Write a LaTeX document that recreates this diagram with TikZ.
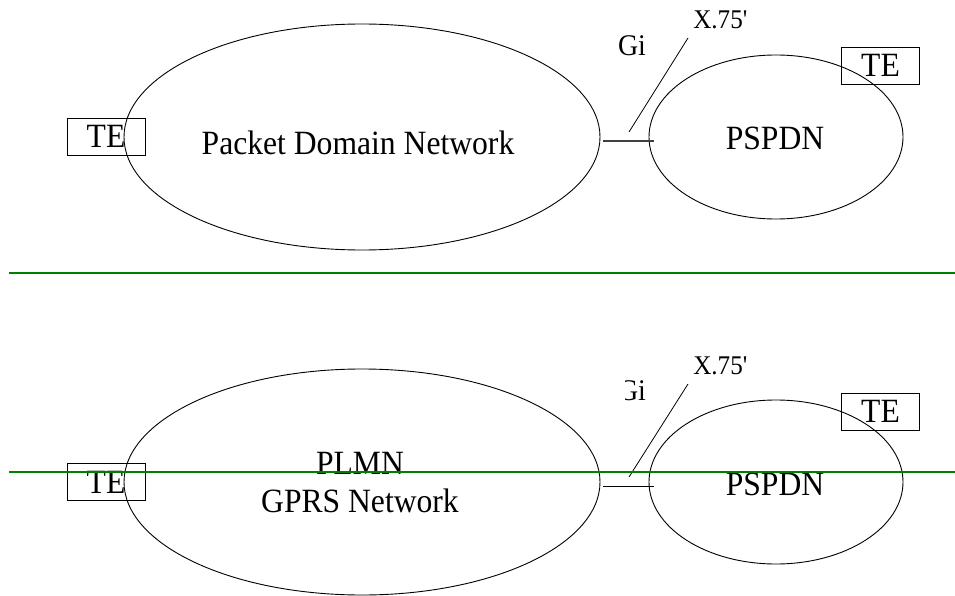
\documentclass[tikz,border=0pt]{standalone}
\usepackage{fontspec}
\setmainfont[FakeStretch=0.93]{Liberation Serif}
\usetikzlibrary{shapes.geometric,calc}
\definecolor{rulegreen}{RGB}{0,128,0}

\tikzset{
  net/.style={draw,ellipse,line width=0.9pt,inner sep=0pt},
  bignet/.style={net,minimum width=476pt,minimum height=226pt},
  smallnet/.style={net,minimum width=254pt,minimum height=164pt},
  tebox/.style={draw,line width=0.9pt,minimum width=78pt,minimum height=37pt,inner sep=0pt,font=\fontsize{34}{38}\selectfont},
  lbl/.style={font=\fontsize{34}{38}\selectfont,inner sep=0pt,align=center},
  ifname/.style={font=\fontsize{30}{34}\selectfont,inner sep=0pt},
  protname/.style={font=\fontsize{27}{31}\selectfont,inner sep=0pt},
  sep/.style={rulegreen,line width=2pt},
}

\begin{document}
\begin{tikzpicture}[x=1pt,y=-1pt]
  \useasboundingbox (0,0) rectangle (955,596);

  % upper half: packet domain
  \node[bignet] (pdn) at (362,137) {};
  \node[smallnet] (pspdn) at (776,137) {};
  \node[lbl] (pdntext) at (358,143) {Packet Domain Network};
  \node[lbl] (pspdntext) at (775,138) {PSPDN};
  \node[tebox] (teleft) at (106,136.5) {TE};
  \node[tebox] (teright) at (880.5,65.5) {TE};
  \node[ifname] (gi) at (632,46) {Gi};
  \node[protname] (xsf) at (720.5,20) {X.75\textquotesingle};
  \draw[line width=1.4pt,black!75] ($(pdn.east)+(3,4)$) -- ($(pspdn.west)+(5,4)$);
  \coordinate (gitip) at (629,132);
  \draw[line width=0.8pt] (688,38) -- (gitip);

  % lower half: PLMN / GPRS
  \node[bignet] (plmn) at (362,482) {};
  \node[smallnet] (pspdnb) at (776,482) {};
  \node[lbl] (plmntext) at (360,483) {PLMN\\GPRS Network};
  \node[lbl] (pspdnbtext) at (775,484) {PSPDN};
  \node[tebox] (teleftb) at (106,482) {TE};
  \node[tebox] (terightb) at (880.5,411.5) {TE};
  \node[ifname] (gib) at (632,391) {Gi};
  \fill[white] (600,372) rectangle (625,410);
  \node[protname] (xsfb) at (720.5,366) {X.75\textquotesingle};
  \draw[line width=0.8pt] ($(plmn.east)+(3,4)$) -- ($(pspdnb.west)+(5,4)$);
  \coordinate (gitipb) at (629,477);
  \draw[line width=0.8pt] (688,384) -- (gitipb);

  % green rules
  \draw[sep] (9,273) -- (955,273);
  \draw[sep] (9,472) -- (955,472);
\end{tikzpicture}
\end{document}
